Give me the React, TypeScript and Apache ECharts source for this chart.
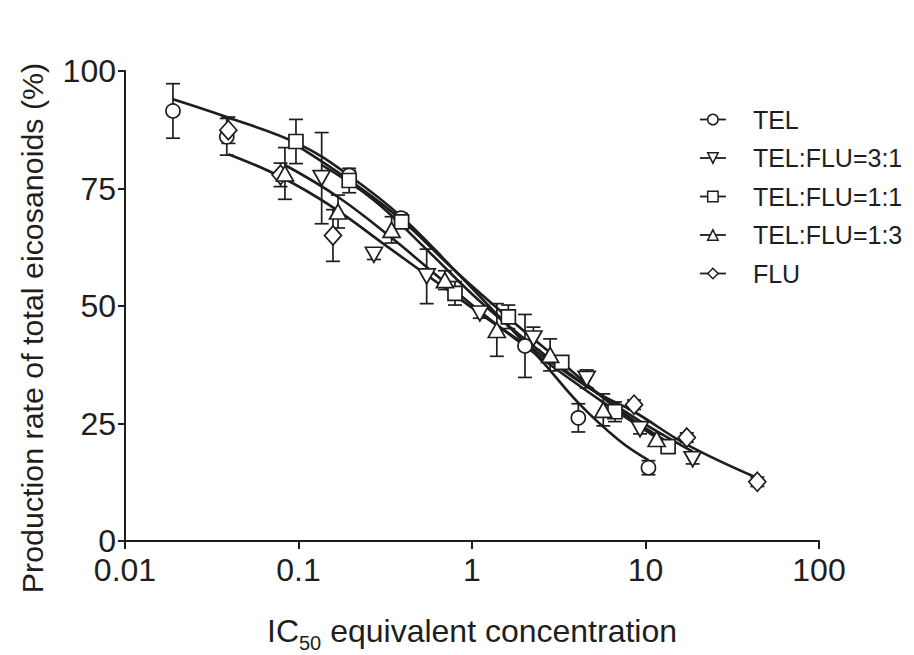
import React, { useEffect, useRef } from "react";
import * as echarts from "echarts";

// ---- axis ticks ----
const X_TICKS = [0.01, 0.1, 1, 10, 100];
const Y_TICKS = [0, 25, 50, 75, 100];

// ---- legend / series names ----
const NAMES = ["TEL", "TEL:FLU=3:1", "TEL:FLU=1:1", "TEL:FLU=1:3", "FLU"];

// ---- measured points (x, mean, error) ----
const TEL_X = [0.0189, 0.0386, 0.196, 0.39, 2.02, 4.1, 10.4];
const TEL_Y = [91.5, 86.0, 77.8, 68.7, 41.5, 26.2, 15.6];
const TEL_E = [5.8, 3.9, 1.0, 1.0, 6.7, 3.0, 1.5];

const R31_X = [0.136, 0.272, 0.548, 1.11, 2.26, 4.58, 9.3, 18.7];
const R31_Y = [77.2, 60.9, 56.3, 48.4, 43.1, 34.5, 23.8, 17.4];
const R31_E = [9.7, 1.0, 5.8, 1.0, 2.4, 1.9, 1.0, 1.0];

const R11_X = [0.0967, 0.196, 0.393, 0.798, 1.62, 3.29, 6.67, 13.5];
const R11_Y = [85.0, 76.7, 67.9, 52.7, 47.7, 38.0, 27.5, 20.1];
const R11_E = [4.7, 2.6, 1.0, 2.5, 2.5, 1.0, 2.1, 0.8];

const R13_X = [0.0835, 0.169, 0.344, 0.698, 1.39, 2.82, 5.71, 11.6];
const R13_Y = [78.2, 70.1, 66.2, 55.5, 44.9, 39.6, 27.9, 21.7];
const R13_E = [5.5, 3.5, 2.8, 2.0, 5.6, 3.4, 3.4, 1.0];

const FLU_X = [0.0394, 0.0788, 0.158, 8.59, 17.3, 44.1];
const FLU_Y = [87.4, 77.9, 65.0, 29.0, 22.0, 12.6];
const FLU_E = [2.8, 2.5, 5.5, 1.0, 1.0, 1.0];

// ---- fitted curves ----
const TEL_FIT_X = [0.0189, 0.0386, 0.1, 0.2, 0.4, 0.8, 1.5, 2.5, 4.1, 7, 10.4];
const TEL_FIT_Y = [94, 90.2, 84.5, 77.5, 68.7, 57.5, 47, 38.5, 29.4, 21.5, 17.2];

const R31_FIT_X = [0.136, 0.272, 0.548, 1.11, 2.26, 4.58, 9.3, 18.7];
const R31_FIT_Y = [80, 72.5, 62, 51, 41.5, 33, 25.5, 19];

const R11_FIT_X = [0.0967, 0.196, 0.393, 0.798, 1.62, 3.29, 6.67, 13.5];
const R11_FIT_Y = [84.3, 76.8, 68.3, 57.5, 47.5, 38, 28.5, 21];

const R13_FIT_X = [0.0835, 0.169, 0.344, 0.698, 1.39, 2.82, 5.71, 11.6];
const R13_FIT_Y = [80, 73.2, 64.5, 55, 46, 37.5, 29.5, 22];

const FLU_FIT_X = [0.0394, 0.0788, 0.158, 0.315, 0.63, 1.26, 2.52, 5.0, 8.59, 17.3, 44.1];
const FLU_FIT_Y = [82.3, 77.5, 71, 63, 55, 47, 39.5, 32, 27.5, 20.5, 13.4];

const INK = "#1e1e1e";
const FONT = "Liberation Sans, Arial, Helvetica, sans-serif";

const zip2 = (xs: number[], ys: number[]) => xs.map((x, i) => [x, ys[i]]);
const zipErr = (xs: number[], ys: number[], es: number[]) =>
  xs.map((x, i) => [x, ys[i] - es[i], ys[i] + es[i]]);

const DOWN_TRI = "path://M0,0 L20,0 L10,17.5 Z";

export default function App() {
  const ref = useRef<HTMLDivElement>(null);

  useEffect(() => {
    if (!ref.current) return;
    const chart = echarts.init(ref.current, undefined, { renderer: "svg" });

    const groups = [
      { name: NAMES[0], x: TEL_X, y: TEL_Y, e: TEL_E, fx: TEL_FIT_X, fy: TEL_FIT_Y, symbol: "circle", size: [14, 14] },
      { name: NAMES[4], x: FLU_X, y: FLU_Y, e: FLU_E, fx: FLU_FIT_X, fy: FLU_FIT_Y, symbol: "diamond", size: [17, 19] },
      { name: NAMES[2], x: R11_X, y: R11_Y, e: R11_E, fx: R11_FIT_X, fy: R11_FIT_Y, symbol: "rect", size: [14, 14] },
      { name: NAMES[1], x: R31_X, y: R31_Y, e: R31_E, fx: R31_FIT_X, fy: R31_FIT_Y, symbol: DOWN_TRI, size: [17, 15] },
      { name: NAMES[3], x: R13_X, y: R13_Y, e: R13_E, fx: R13_FIT_X, fy: R13_FIT_Y, symbol: "triangle", size: [17, 15] },
    ];

    const fitSeries = groups.map((g) => ({
      type: "line",
      name: g.name + " fit",
      data: zip2(g.fx, g.fy),
      smooth: 0.4,
      symbol: "none",
      silent: true,
      z: 1,
      lineStyle: { color: INK, width: 2.6 },
    }));

    const errSeries = groups.map((g) => ({
      type: "custom",
      name: g.name + " err",
      data: zipErr(g.x, g.y, g.e),
      encode: { x: 0, y: [1, 2] },
      silent: true,
      z: 2,
      renderItem: (params: any, api: any) => {
        const x = api.value(0);
        const top = api.coord([x, api.value(2)]);
        const bot = api.coord([x, api.value(1)]);
        const hw = 7;
        const st = { stroke: INK, lineWidth: 1.7 };
        return {
          type: "group",
          children: [
            { type: "line", shape: { x1: top[0], y1: top[1], x2: bot[0], y2: bot[1] }, style: st },
            { type: "line", shape: { x1: top[0] - hw, y1: top[1], x2: top[0] + hw, y2: top[1] }, style: st },
            { type: "line", shape: { x1: bot[0] - hw, y1: bot[1], x2: bot[0] + hw, y2: bot[1] }, style: st },
          ],
        };
      },
    }));

    const markSeries = groups.map((g, i) => ({
      type: "line",
      name: g.name,
      data: zip2(g.x, g.y),
      symbol: g.symbol,
      symbolSize: g.size,
      showSymbol: true,
      z: 3 + i,
      lineStyle: { opacity: 0, width: 0, color: INK },
      itemStyle: { color: "#ffffff", borderColor: INK, borderWidth: 1.7 },
      emphasis: { disabled: true },
    }));

    chart.setOption({
      animation: false,
      backgroundColor: "#ffffff",
      textStyle: { fontFamily: FONT, color: INK },
      grid: { left: 125, right: 95, top: 71, bottom: 114, containLabel: false, outerBoundsMode: "none" },
      legend: {
        data: NAMES,
        orient: "vertical",
        left: 694,
        top: 102,
        itemWidth: 26,
        itemHeight: 13,
        itemGap: 13.5,
        selectedMode: false,
        lineStyle: { color: INK, width: 1.8, opacity: 1 },
        itemStyle: { color: "#ffffff", borderColor: INK, borderWidth: 1.5 },
        textStyle: { fontSize: 25, color: INK, fontFamily: FONT, padding: [0, 0, 0, 22] },
      },
      xAxis: {
        type: "log",
        logBase: 10,
        min: X_TICKS[0],
        max: X_TICKS[X_TICKS.length - 1],
        axisLine: { show: true, onZero: false, lineStyle: { color: INK, width: 2 } },
        axisTick: { show: true, length: 8, lineStyle: { color: INK, width: 2 } },
        minorTick: { show: false },
        splitLine: { show: false },
        axisLabel: {
          fontSize: 32,
          color: INK,
          fontFamily: FONT,
          margin: 13,
          formatter: (v: number) => {
            const t = X_TICKS.find((k) => Math.abs(Math.log10(k) - Math.log10(v)) < 1e-6);
            return t === undefined ? "" : String(t);
          },
        },
        name: "IC{sub|50} equivalent concentration",
        nameLocation: "middle",
        nameGap: 74,
        nameTextStyle: {
          fontSize: 32,
          color: INK,
          fontFamily: FONT,
          rich: { sub: { fontSize: 20, color: INK, fontFamily: FONT, verticalAlign: "bottom", padding: [0, 0, -6, 0] } },
        },
      },
      yAxis: {
        type: "value",
        min: Y_TICKS[0],
        max: Y_TICKS[Y_TICKS.length - 1],
        interval: 25,
        axisLine: { show: true, onZero: false, lineStyle: { color: INK, width: 2 } },
        axisTick: { show: true, length: 7, lineStyle: { color: INK, width: 2 } },
        splitLine: { show: false },
        axisLabel: { fontSize: 32, color: INK, fontFamily: FONT, margin: 9 },
        name: "Production rate of total eicosanoids (%)",
        nameLocation: "middle",
        nameGap: 78,
        nameRotate: 90,
        nameTextStyle: { fontSize: 30.4, color: INK, fontFamily: FONT, padding: [0, 44, 0, 0] },
      },
      series: [...fitSeries, ...errSeries, ...markSeries],
    });

    return () => chart.dispose();
  }, []);

  return (
    <div
      ref={ref}
      style={{ position: "fixed", left: 0, top: 0, width: 914, height: 655, background: "#fff" }}
    />
  );
}
